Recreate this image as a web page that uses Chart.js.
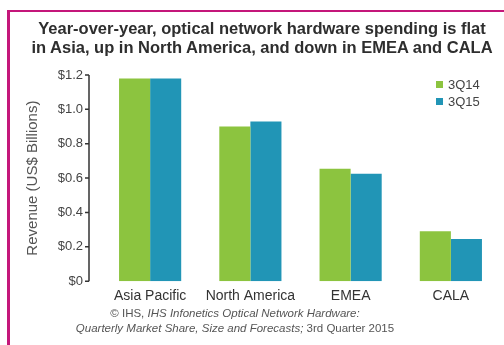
<!DOCTYPE html>
<html>
<head>
<meta charset="utf-8">
<script src="https://cdn.jsdelivr.net/npm/chart.js@4.4.1/dist/chart.umd.min.js"></script>
<style>
  body { margin: 0; background: #fff; font-family: "Liberation Sans", Arial, sans-serif; }
  #wrap { position: relative; width: 504px; height: 345px; overflow: hidden; background: #fff; }
  #frame { position: absolute; left: 7px; top: 10px; width: 520px; height: 360px;
           border-left: 3px solid #c4177a; border-top: 2px solid #c4177a; }
  #title { position: absolute; left: 10px; width: 504px; top: 19px; text-align: center;
           font-weight: bold; font-size: 16.5px; line-height: 19px; color: #2e2e2e; }
  #legend { position: absolute; left: 436px; top: 76px; font-size: 13px; color: #444; }
  #legend div { height: 17px; line-height: 17px; white-space: nowrap; }
  #legend span.box { display: inline-block; width: 7px; height: 7px; margin-right: 5px; vertical-align: 1px; }
  #source { position: absolute; left: 0; width: 470px; top: 306px; text-align: center;
            font-size: 11.5px; line-height: 15px; color: #555; }
  canvas { position: absolute; left: 0; top: 0; }
</style>
</head>
<body>
<div id="wrap">
  <canvas id="chart" width="504" height="345"></canvas>
  <div id="frame"></div>
  <div id="title">Year-over-year, optical network hardware spending is flat<br>in Asia, up in North America, and down in EMEA and CALA</div>
  <div id="legend"></div>
  <div id="source">© IHS, <i>IHS Infonetics Optical Network Hardware:</i><br><i>Quarterly Market Share, Size and Forecasts;</i> 3rd Quarter 2015</div>
</div>
<script>
const regions = ["Asia Pacific", "North America", "EMEA", "CALA"];
const q314 = [1.18, 0.90, 0.655, 0.29];
const q315 = [1.18, 0.93, 0.625, 0.245];
const seriesNames = ["3Q14", "3Q15"];
const seriesColors = ["#8cc43f", "#2195b6"];
const yTickLabels = ["$0", "$0.2", "$0.4", "$0.6", "$0.8", "$1.0", "$1.2"];

Chart.defaults.font.family = "'Liberation Sans', Arial, sans-serif";
Chart.defaults.color = "#444";

// y axis line sits a bit left of the first bar group, drawn by hand
const axisLine = {
  id: "axisLine",
  afterDraw(chart) {
    const c = chart.ctx;
    const y = chart.scales.y;
    const x = chart.chartArea.left - 11;
    c.save();
    c.strokeStyle = "#333";
    c.lineWidth = 1.5;
    c.beginPath();
    c.moveTo(x, y.getPixelForValue(1.2));
    c.lineTo(x, y.getPixelForValue(0));
    y.ticks.forEach((t) => {
      const py = y.getPixelForValue(t.value);
      c.moveTo(x - 4, py);
      c.lineTo(x, py);
    });
    c.stroke();
    c.restore();
  },
};

const ctx = document.getElementById("chart");
const barChart = new Chart(ctx, {
  type: "bar",
  data: {
    labels: regions,
    datasets: [
      { label: seriesNames[0], data: q314, backgroundColor: seriesColors[0] },
      { label: seriesNames[1], data: q315, backgroundColor: seriesColors[1] },
    ],
  },
  options: {
    responsive: false,
    animation: false,
    layout: { padding: { left: 20, top: 75, right: 3, bottom: 33 } },
    datasets: { bar: { categoryPercentage: 0.62, barPercentage: 1.0 } },
    plugins: { legend: { display: false }, tooltip: { enabled: false } },
    scales: {
      x: {
        grid: { display: false, drawTicks: false },
        border: { display: false },
        ticks: { font: { size: 14 }, color: "#333", padding: 7, maxRotation: 0 },
      },
      y: {
        min: 0,
        max: 1.2,
        grid: { display: false, drawTicks: false },
        border: { display: false },
        ticks: {
          stepSize: 0.2,
          padding: 17,
          font: { size: 13 },
          color: "#444",
          callback: (v, i) => yTickLabels[i],
        },
        title: {
          display: true,
          text: "Revenue (US$ Billions)",
          font: { size: 15 },
          color: "#555",
        },
        afterFit(s) { s.width = 80; },
      },
    },
  },
  plugins: [axisLine],
});

const legend = document.getElementById("legend");
seriesNames.forEach((name, i) => {
  const row = document.createElement("div");
  row.innerHTML = `<span class="box" style="background:${seriesColors[i]}"></span>${name}`;
  legend.appendChild(row);
});
</script>
</body>
</html>
